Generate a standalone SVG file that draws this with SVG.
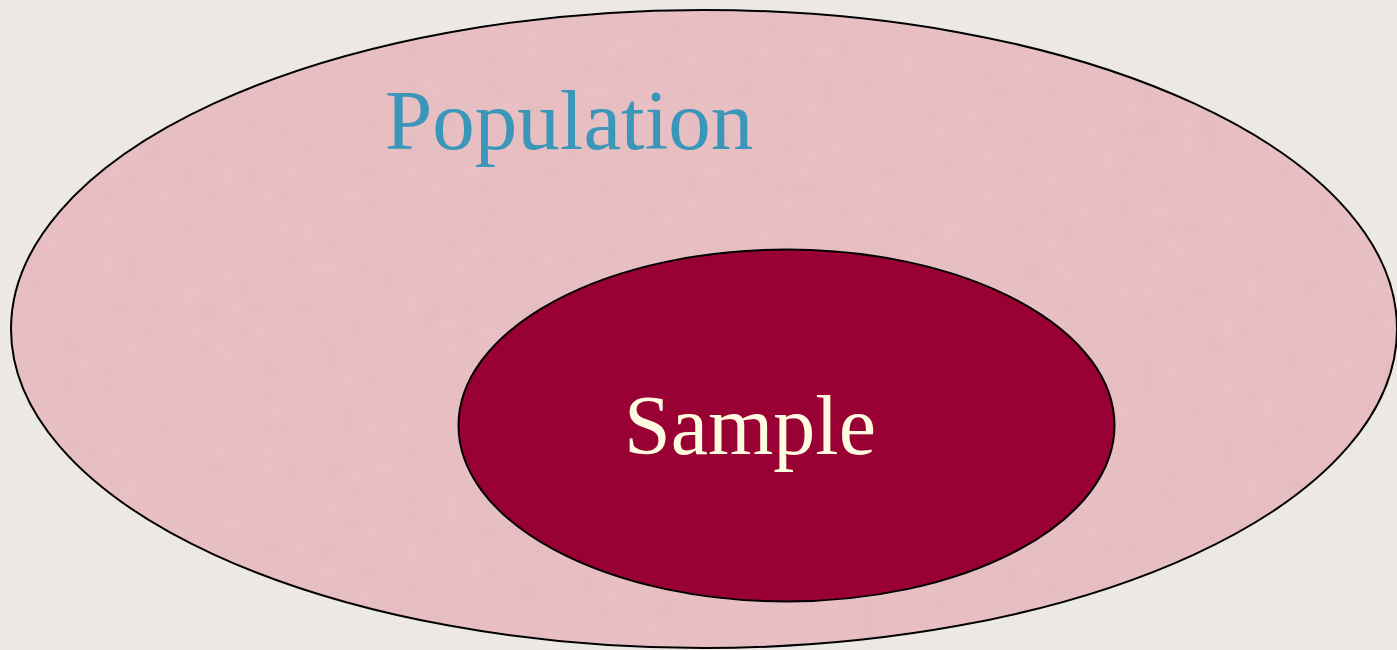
<svg xmlns="http://www.w3.org/2000/svg" width="1397" height="650" viewBox="0 0 1397 650">
  <style>
    .outline { stroke: #000; stroke-width: 2; }
    .label { font-family: "Liberation Serif", "Times New Roman", serif; }
  </style>
  <defs>
    <filter id="grain" x="0" y="0" width="100%" height="100%">
      <feTurbulence type="fractalNoise" baseFrequency="0.05" numOctaves="3" seed="4" result="n"/>
      <feColorMatrix in="n" type="matrix" values="0 0 0 0 0.55  0 0 0 0 0.35  0 0 0 0 0.38  0 0 0 0.5 -0.1" result="c"/>
      <feComposite in="c" in2="SourceGraphic" operator="in"/>
    </filter>
  </defs>
  <rect width="1397" height="650" fill="#ece8e4"/>
  <g id="population">
    <ellipse cx="704" cy="329" rx="693" ry="319" fill="#e9c0c3" class="outline"/>
    <ellipse cx="704" cy="329" rx="692" ry="318" fill="#e9c0c3" filter="url(#grain)" opacity="0.35"/>
    <text class="label" x="385" y="149" font-size="85" fill="#3a97b9">Population</text>
  </g>
  <g id="sample">
    <ellipse cx="786.5" cy="425.5" rx="328" ry="176" fill="#990033" class="outline"/>
    <text class="label" x="624" y="454" font-size="84" fill="#fffbe1">Sample</text>
  </g>
  <g id="connectors"/>
</svg>
